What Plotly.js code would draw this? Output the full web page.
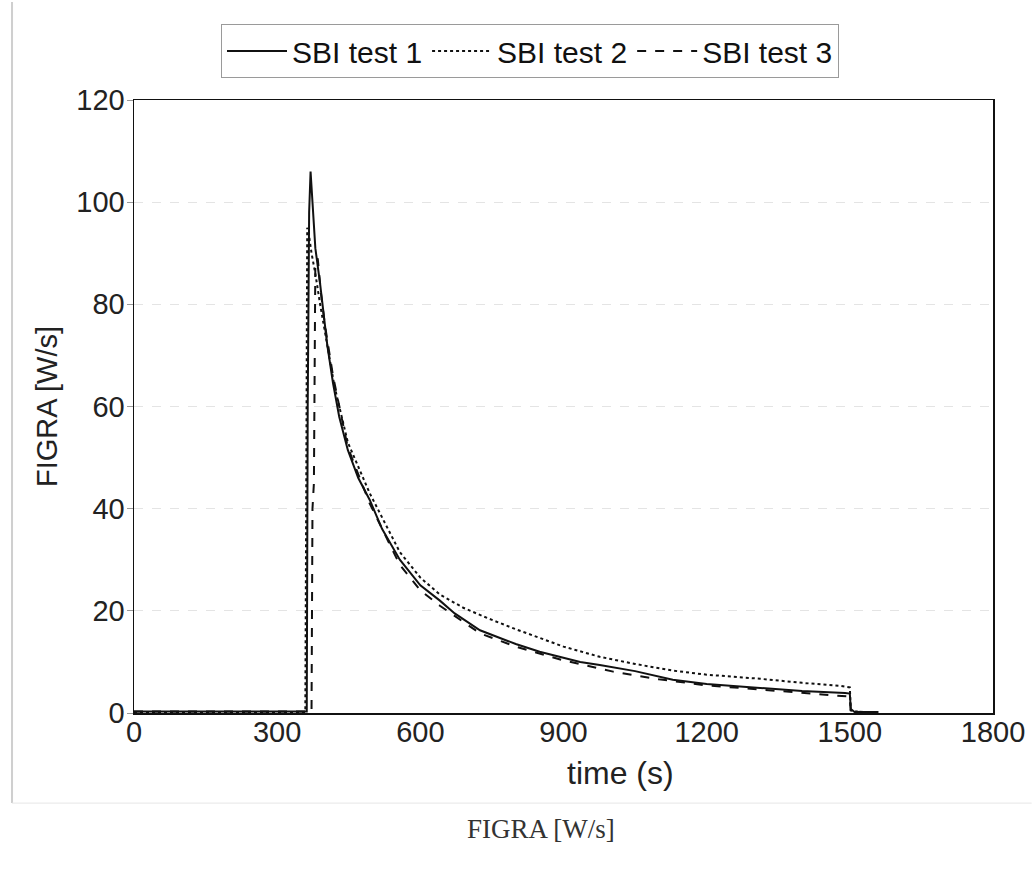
<!DOCTYPE html>
<html>
<head>
<meta charset="utf-8">
<script src="https://cdn.plot.ly/plotly-3.0.1.min.js"></script>
<style>
html,body{margin:0;padding:0;background:#fff;}
#chart{width:1032px;height:872px;}
</style>
</head>
<body>
<div id="chart"></div>
<script>
// SBI test 1 (solid)
const t1 = [0, 300, 362, 364, 367, 370, 375, 380, 390, 396, 405, 417, 430, 448, 470, 494, 520, 557, 600, 641, 672, 725, 800, 850, 900, 935, 976, 1050, 1129, 1200, 1312, 1400, 1490, 1500, 1502, 1510, 1560];
const v1 = [0.3, 0.3, 0.3, 60, 98, 106, 98, 91, 84, 79, 72, 64.6, 58, 51.5, 46, 41.7, 36, 30, 25, 22, 19.5, 16.2, 13.5, 12, 10.8, 10.0, 9.4, 8.2, 6.5, 5.7, 4.9, 4.3, 3.9, 3.8, 0.8, 0.2, 0.2];
// SBI test 2 (dotted)
const t2 = [0, 359, 361, 363, 366, 372, 380, 390, 405, 420, 448, 494, 557, 600, 641, 690, 740, 800, 900, 976, 1050, 1129, 1200, 1312, 1400, 1480, 1500, 1502, 1520];
const v2 = [0.2, 0.2, 45, 95, 94, 90, 86, 80, 72, 64, 53, 43, 31.5, 26.5, 23.2, 20.6, 18.6, 16.4, 13, 11.0, 9.6, 8.3, 7.5, 6.7, 5.9, 5.3, 5.0, 0.5, 0.2];
// SBI test 3 (dashed)
const t3 = [0, 372, 374, 377, 380, 385, 392, 400, 417, 448, 494, 557, 600, 641, 725, 800, 900, 1004, 1100, 1200, 1312, 1400, 1490, 1500, 1502, 1550];
const v3 = [0.3, 0.3, 40, 45, 88, 89, 82, 76, 66, 52, 41, 29, 24, 21, 15.6, 13, 10.3, 8.1, 6.6, 5.4, 4.6, 4.0, 3.3, 3.2, 0.3, 0.1];

const seriesNames = ["SBI test 1", "SBI test 2", "SBI test 3"];
const xTicks = [0, 300, 600, 900, 1200, 1500, 1800];
const yTicks = [0, 20, 40, 60, 80, 100, 120];

const font = "Liberation Sans, Arial, sans-serif";
const traces = [
  {x: t1, y: v1, name: seriesNames[0], mode: "lines", line: {color: "#111", width: 2, dash: "solid"}},
  {x: t2, y: v2, name: seriesNames[1], mode: "lines", line: {color: "#111", width: 2, dash: "dot"}},
  {x: t3, y: v3, name: seriesNames[2], mode: "lines", line: {color: "#111", width: 2, dash: "dash"}}
];

const layout = {
  width: 1032, height: 872,
  margin: {l: 134, r: 39, t: 100, b: 159},
  paper_bgcolor: "#fff", plot_bgcolor: "#fff",
  font: {family: font, size: 29, color: "#222"},
  showlegend: true,
  legend: {
    orientation: "h", x: 0.461, y: 1.08, xanchor: "center", yanchor: "middle",
    font: {family: font, size: 30, color: "#111"},
    bordercolor: "#9a9a9a", borderwidth: 1, bgcolor: "#fff",
    itemwidth: 60, tracegroupgap: 0
  },
  xaxis: {
    range: [0, 1800], tickvals: xTicks, ticktext: xTicks.map(String),
    showline: true, linecolor: "#111", linewidth: 1.5, mirror: true,
    showgrid: false, zeroline: false, ticks: "", ticklabelstandoff: -7,
    tickfont: {family: font, size: 29, color: "#222"}
  },
  yaxis: {
    range: [0, 120], tickvals: yTicks, ticktext: yTicks.map(String),
    showline: true, linecolor: "#111", linewidth: 1.5, mirror: true,
    showgrid: true, gridcolor: "#e4e4e4", gridwidth: 1, griddash: "dash",
    zeroline: false, ticks: "outside", ticklen: 6, tickcolor: "#999",
    ticklabelstandoff: -4,
    tickfont: {family: font, size: 29, color: "#222"},
    title: {text: "FIGRA [W/s]", standoff: 10, font: {family: font, size: 29, color: "#222"}}
  },
  annotations: [
    {text: "time (s)", xref: "paper", yref: "paper", x: 0.566, y: -0.098, xanchor: "center", yanchor: "middle",
     showarrow: false, font: {family: font, size: 32, color: "#222"}},
    {text: "FIGRA [W/s]", xref: "paper", yref: "paper", x: 0.474, y: -0.19, xanchor: "center", yanchor: "middle",
     showarrow: false, font: {family: "Liberation Serif, Times New Roman, serif", size: 27, color: "#333"}}
  ],
  shapes: [
    {type: "line", xref: "paper", yref: "paper", x0: -0.142, x1: -0.142, y0: -0.147, y1: 1.16, line: {color: "#cfcfcf", width: 2}},
    {type: "line", xref: "paper", yref: "paper", x0: -0.142, x1: 1.045, y0: -0.147, y1: -0.147, line: {color: "#e6e6e6", width: 1}}
  ]
};

Plotly.newPlot("chart", traces, layout, {displayModeBar: false, staticPlot: true});
</script>
</body>
</html>
